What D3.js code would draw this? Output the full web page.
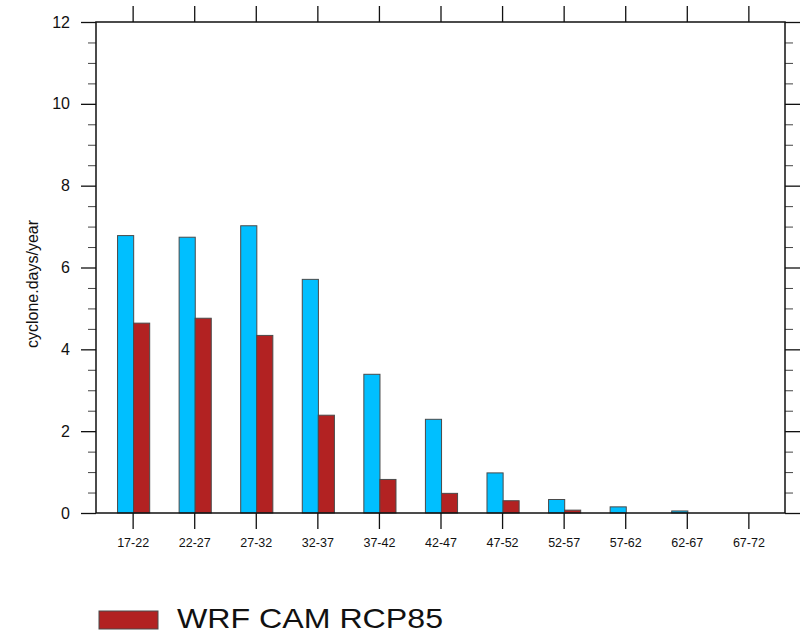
<!DOCTYPE html>
<html>
<head>
<meta charset="utf-8">
<script src="https://cdn.jsdelivr.net/npm/d3@7/dist/d3.min.js"></script>
<style>
  html, body { margin: 0; padding: 0; background: #fff; }
  svg { display: block; font-family: "Liberation Sans", Arial, Helvetica, sans-serif; }
</style>
</head>
<body>
<svg id="chart" width="808" height="634"></svg>
<script>
// ---- data ----
const categories = ["17-22","22-27","27-32","32-37","37-42","42-47","47-52","52-57","57-62","62-67","67-72"];
const seriesNames = ["WRF CAM Historical", "WRF CAM RCP85"];
const blueValues = [6.78, 6.74, 7.02, 5.71, 3.39, 2.29, 0.98, 0.33, 0.15, 0.05, 0];
const redValues  = [4.64, 4.76, 4.34, 2.39, 0.82, 0.48, 0.30, 0.07, 0, 0, 0];
const yTickValues = [0, 2, 4, 6, 8, 10, 12];
const yLabel = "cyclone.days/year";
const legendLabel = "WRF CAM RCP85";

// ---- layout ----
const svg = d3.select("#chart");
const L = 96, R = 785, T = 22, B = 513;

const x = d3.scaleLinear().domain([-0.595, categories.length - 1 + 0.595]).range([L, R]);
const y = d3.scaleLinear().domain([0, 12]).range([B, T]);

const blueColor = "#00BFFF", redColor = "#B22222", strokeColor = "#4a4a4a";

// ---- bars ----
const bw = 0.262;
const g = svg.append("g");
g.selectAll("rect.blue").data(blueValues).enter().append("rect")
  .attr("class", "blue")
  .attr("x", (d, i) => x(i - 0.245))
  .attr("width", x(bw) - x(0))
  .attr("y", d => y(d))
  .attr("height", d => y(0) - y(d))
  .attr("fill", blueColor)
  .attr("stroke", d => d > 0 ? strokeColor : "none")
  .attr("stroke-width", 1);
g.selectAll("rect.red").data(redValues).enter().append("rect")
  .attr("class", "red")
  .attr("x", (d, i) => x(i + 0.015))
  .attr("width", x(bw) - x(0))
  .attr("y", d => y(d))
  .attr("height", d => y(0) - y(d))
  .attr("fill", redColor)
  .attr("stroke", d => d > 0 ? strokeColor : "none")
  .attr("stroke-width", 1);

// ---- axes ----
const idx = d3.range(categories.length);
const minorY = d3.range(0, 12.01, 0.5).filter(v => v % 2 !== 0);

function styleAxis(sel) {
  sel.select(".domain").remove();
  sel.selectAll(".tick line").attr("stroke", "#111").attr("stroke-width", 1.3);
}

// left major
const leftAx = svg.append("g").attr("transform", `translate(${L},0)`)
  .call(d3.axisLeft(y).tickValues(yTickValues).tickSize(15).tickPadding(11).tickFormat(d3.format("d")));
styleAxis(leftAx);
leftAx.selectAll("text").attr("font-size", 16).attr("fill", "#111")
  .attr("font-family", "'Liberation Sans', Arial, sans-serif");
// left minor
const leftMin = svg.append("g").attr("transform", `translate(${L},0)`)
  .call(d3.axisLeft(y).tickValues(minorY).tickSize(8).tickFormat(""));
styleAxis(leftMin);
leftMin.selectAll(".tick line").attr("stroke", "#444").attr("stroke-width", 1);

// right major + minor
const rightAx = svg.append("g").attr("transform", `translate(${R},0)`)
  .call(d3.axisRight(y).tickValues(yTickValues).tickSize(15).tickFormat(""));
styleAxis(rightAx);
const rightMin = svg.append("g").attr("transform", `translate(${R},0)`)
  .call(d3.axisRight(y).tickValues(minorY).tickSize(8).tickFormat(""));
styleAxis(rightMin);
rightMin.selectAll(".tick line").attr("stroke", "#444").attr("stroke-width", 1);

// bottom
const botAx = svg.append("g").attr("transform", `translate(0,${B})`)
  .call(d3.axisBottom(x).tickValues(idx).tickSize(16).tickPadding(9).tickFormat(i => categories[i]));
styleAxis(botAx);
botAx.selectAll("text").attr("font-size", 12.5).attr("fill", "#111")
  .attr("font-family", "'Liberation Sans', Arial, sans-serif");

// top
const topAx = svg.append("g").attr("transform", `translate(0,${T})`)
  .call(d3.axisTop(x).tickValues(idx).tickSize(16).tickFormat(""));
styleAxis(topAx);

// frame
svg.append("rect").attr("x", L).attr("y", T).attr("width", R - L).attr("height", B - T)
  .attr("fill", "none").attr("stroke", "#111").attr("stroke-width", 1.5);

// y label
svg.append("text")
  .attr("transform", `translate(38,284) rotate(-90)`)
  .attr("text-anchor", "middle")
  .attr("font-size", 16)
  .attr("fill", "#111")
  .text(yLabel);

// legend
svg.append("rect").attr("x", 99).attr("y", 611).attr("width", 59).attr("height", 18)
  .attr("fill", redColor).attr("stroke", strokeColor).attr("stroke-width", 1);
svg.append("text").attr("x", 177).attr("y", 628)
  .attr("font-size", 28).attr("fill", "#111")
  .attr("textLength", 266).attr("lengthAdjust", "spacingAndGlyphs")
  .text(legendLabel);
</script>
</body>
</html>
